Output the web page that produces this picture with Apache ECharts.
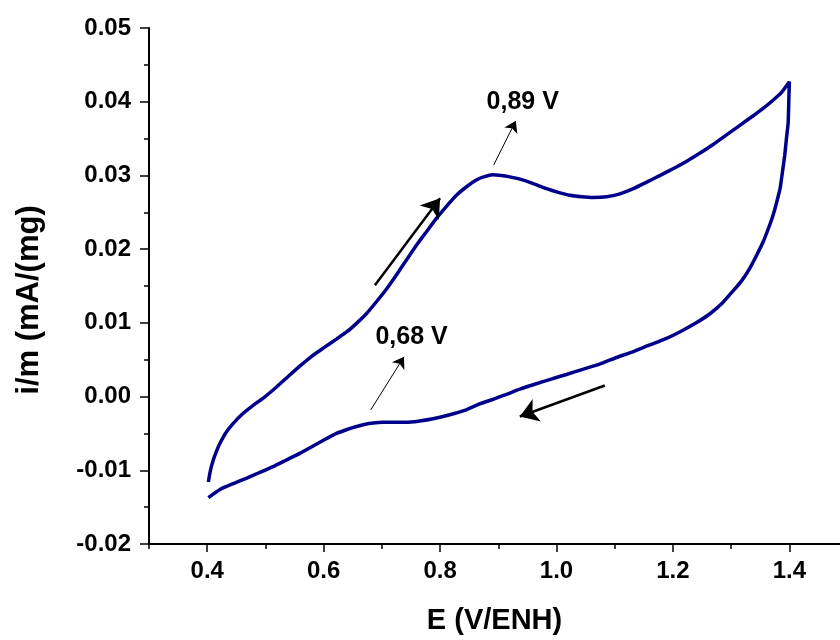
<!DOCTYPE html>
<html>
<head>
<meta charset="utf-8">
<script src="https://cdn.jsdelivr.net/npm/echarts@6/dist/echarts.min.js"></script>
<style>
  html, body { margin: 0; padding: 0; background: #fff; }
  #chart { width: 840px; height: 640px; }
</style>
</head>
<body>
<div id="chart"></div>
<script>
// Anodic sweep, 0.4 V -> 1.4 V
const potentialForward = [0.402, 0.405, 0.410, 0.416, 0.4215, 0.432, 0.444, 0.460, 0.479, 0.498, 0.519, 0.540,
  0.560, 0.580, 0.600, 0.622, 0.640, 0.656, 0.673, 0.691, 0.708, 0.725, 0.742, 0.760, 0.777, 0.794, 0.811,
  0.828, 0.846, 0.863, 0.875, 0.890, 0.905, 0.920, 0.937, 0.960, 0.983, 1.003, 1.023, 1.043, 1.063, 1.086,
  1.109, 1.132, 1.155, 1.178, 1.200, 1.223, 1.246, 1.269, 1.292, 1.315, 1.338, 1.355, 1.372, 1.387, 1.400];
const currentForward = [-0.0116, -0.0102, -0.0087, -0.0074, -0.0064, -0.0049, -0.0037, -0.0024, -0.0012, -0.0001, 0.0013, 0.0028,
  0.0042, 0.0055, 0.0066, 0.0078, 0.0088, 0.0099, 0.0112, 0.0129, 0.0146, 0.0165, 0.0185, 0.0206, 0.0224, 0.0242, 0.0258,
  0.0273, 0.0285, 0.0294, 0.0298, 0.0301, 0.0300, 0.0298, 0.0295, 0.0289, 0.0282, 0.0277, 0.0273, 0.0271, 0.0270, 0.0271,
  0.0275, 0.0282, 0.0291, 0.0300, 0.0309, 0.0319, 0.0330, 0.0342, 0.0355, 0.0368, 0.0381, 0.0391, 0.0402, 0.0413, 0.0427];

// Cathodic sweep, 1.4 V -> 0.4 V
const potentialReverse = [1.399, 1.398, 1.395, 1.392, 1.388, 1.384, 1.378, 1.372, 1.364, 1.355, 1.344, 1.332,
  1.318, 1.303, 1.285, 1.263, 1.240, 1.215, 1.189, 1.160, 1.132, 1.103, 1.074, 1.045, 1.017, 0.988, 0.960,
  0.937, 0.914, 0.890, 0.868, 0.845, 0.815, 0.788, 0.765, 0.742, 0.720, 0.702, 0.685, 0.670, 0.655, 0.639,
  0.622, 0.605, 0.582, 0.559, 0.536, 0.513, 0.490, 0.467, 0.445, 0.422, 0.402];
const currentReverse = [0.0400, 0.0372, 0.0350, 0.0327, 0.0304, 0.0282, 0.0263, 0.0246, 0.0228, 0.0210, 0.0192, 0.0174,
  0.0157, 0.0143, 0.0127, 0.0112, 0.0100, 0.0089, 0.0079, 0.0070, 0.0061, 0.0053, 0.0044, 0.0037, 0.0030, 0.0023, 0.0016,
  0.0010, 0.0003, -0.0004, -0.0010, -0.0018, -0.0025, -0.0030, -0.0033, -0.0035, -0.0035, -0.0035, -0.0036, -0.0038, -0.0041, -0.0045,
  -0.0050, -0.0057, -0.0067, -0.0077, -0.0086, -0.0095, -0.0103, -0.0111, -0.0118, -0.0126, -0.0137];

// Axis ticks
const xMajorTicks = [0.4, 0.6, 0.8, 1.0, 1.2, 1.4];
const xMinorTicks = [0.3, 0.5, 0.7, 0.9, 1.1, 1.3];

// Peak annotations: text, text anchor, arrow start, arrow end
const peakLabels = ['0,89 V', '0,68 V'];
const peakLabelPos = [[0.942, 0.0399], [0.751, 0.0081]];
const peakArrowFrom = [[0.892, 0.0314], [0.681, -0.0018]];
const peakArrowTo = [[0.930, 0.0374], [0.738, 0.0054]];

// Sweep direction arrows
const sweepArrowFrom = [[0.688, 0.0151], [1.083, 0.0015]];
const sweepArrowTo = [[0.800, 0.0269], [0.937, -0.0027]];

const FONT = "'Liberation Sans', Arial, sans-serif";
const INK = '#000';

const loop = [];
potentialForward.forEach((e, i) => loop.push([e, currentForward[i]]));
potentialReverse.forEach((e, i) => loop.push([e, currentReverse[i]]));

const chart = echarts.init(document.getElementById('chart'), null, { renderer: 'canvas' });

const xBase = {
  type: 'value',
  min: 0.3,
  max: 1.487,
  position: 'bottom',
  splitLine: { show: false }
};

chart.setOption({
  animation: false,
  backgroundColor: '#fff',
  grid: { left: 149, top: 28, right: 0, bottom: 92, containLabel: false },
  xAxis: [
    Object.assign({}, xBase, {
      name: 'E (V/ENH)',
      nameLocation: 'middle',
      nameGap: 62,
      nameTextStyle: { fontFamily: FONT, fontWeight: 'bold', fontSize: 29, color: INK },
      axisLine: { onZero: false, lineStyle: { color: INK, width: 2 } },
      axisTick: { customValues: xMajorTicks, length: 8, lineStyle: { color: INK, width: 1.5 } },
      axisLabel: {
        customValues: xMajorTicks, margin: 15,
        fontFamily: FONT, fontWeight: 'bold', fontSize: 24, color: INK,
        formatter: v => v.toFixed(1)
      }
    }),
    Object.assign({}, xBase, {
      axisLine: { show: false, onZero: false },
      axisTick: { customValues: xMinorTicks, length: 5, lineStyle: { color: INK, width: 1.5 } },
      axisLabel: { show: false }
    })
  ],
  yAxis: {
    type: 'value',
    min: -0.02,
    max: 0.05,
    interval: 0.01,
    name: 'i/m (mA/(mg)',
    nameLocation: 'middle',
    nameRotate: 90,
    nameGap: 104,
    nameTextStyle: { fontFamily: FONT, fontWeight: 'bold', fontSize: 31, color: INK, padding: [0, 28, 0, 0] },
    splitLine: { show: false },
    axisLine: { onZero: false, lineStyle: { color: INK, width: 2 } },
    axisTick: { length: 9, lineStyle: { color: INK, width: 1.5 } },
    minorTick: { show: true, splitNumber: 2, length: 5, lineStyle: { color: INK, width: 1.5 } },
    axisLabel: {
      margin: 18,
      fontFamily: FONT, fontWeight: 'bold', fontSize: 24, color: INK,
      formatter: v => v.toFixed(2)
    }
  },
  series: [
    {
      type: 'line',
      data: loop,
      showSymbol: false,
      smooth: 0.15,
      lineStyle: { color: '#00008B', width: 3.5 },
      z: 3
    },
    {
      type: 'lines',
      coordinateSystem: 'cartesian2d',
      symbol: ['none', 'arrow'],
      symbolSize: [0, 11],
      lineStyle: { color: INK, width: 1, opacity: 1 },
      data: peakArrowFrom.map((p, i) => ({ coords: [p, peakArrowTo[i]] })),
      z: 4
    },
    {
      type: 'lines',
      coordinateSystem: 'cartesian2d',
      symbol: ['none', 'arrow'],
      symbolSize: [0, 18],
      lineStyle: { color: INK, width: 2.5, opacity: 1 },
      data: sweepArrowFrom.map((p, i) => ({ coords: [p, sweepArrowTo[i]] })),
      z: 4
    },
    {
      type: 'scatter',
      symbolSize: 0,
      silent: true,
      itemStyle: { opacity: 1 },
      data: peakLabels.map((t, i) => ({ name: t, value: peakLabelPos[i] })),
      label: {
        show: true,
        position: 'inside',
        formatter: p => p.name,
        fontFamily: FONT, fontWeight: 'bold', fontSize: 25, color: INK,
        opacity: 1,
        textBorderWidth: 0
      },
      z: 5
    }
  ]
});
</script>
</body>
</html>
